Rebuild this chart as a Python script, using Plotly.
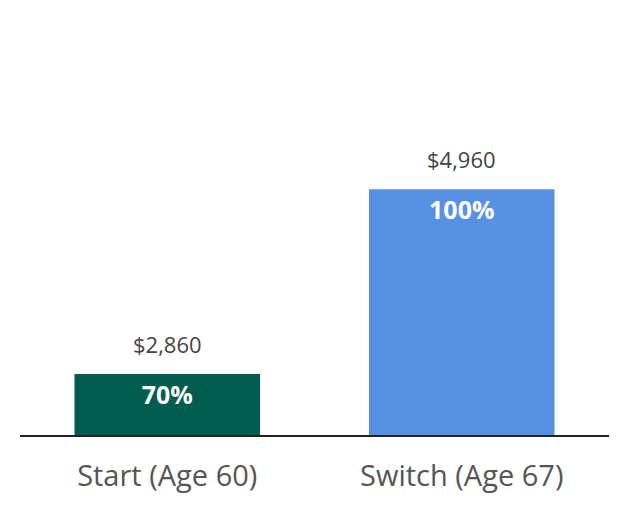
import plotly.graph_objects as go

categories = ["Start (Age 60)", "Switch (Age 67)"]
amounts = [2860, 4960]
amount_labels = ["$2,860", "$4,960"]
pct_labels = ["70%", "100%"]
colors = ["#005c4f", "#5891e3"]

fig = go.Figure()
fig.add_trace(go.Bar(
    x=categories, y=amounts, base=0,
    marker=dict(color=colors, line=dict(width=0)),
    text=pct_labels, textposition="inside", insidetextanchor="end",
    textfont=dict(family="Open Sans", size=25, color="white", weight="bold"),
    hoverinfo="skip",
))

for c, v, lab in zip(categories, amounts, amount_labels):
    fig.add_annotation(x=c, y=v, text=lab, showarrow=False, yshift=30,
                       font=dict(family="Open Sans", size=22, color="#444"))

fig.update_layout(
    width=644, height=528,
    margin=dict(l=12, r=43, t=13, b=101),
    paper_bgcolor="white", plot_bgcolor="white",
    bargap=0.37, showlegend=False,
    font=dict(family="Open Sans"),
    xaxis=dict(showline=True, linecolor="#222", linewidth=1.5,
               tickfont=dict(size=29, color="#555"), ticks="",
               ticklabelstandoff=14),
    yaxis=dict(range=[2168, 6870], visible=False),
)
fig.write_html("out.html")
